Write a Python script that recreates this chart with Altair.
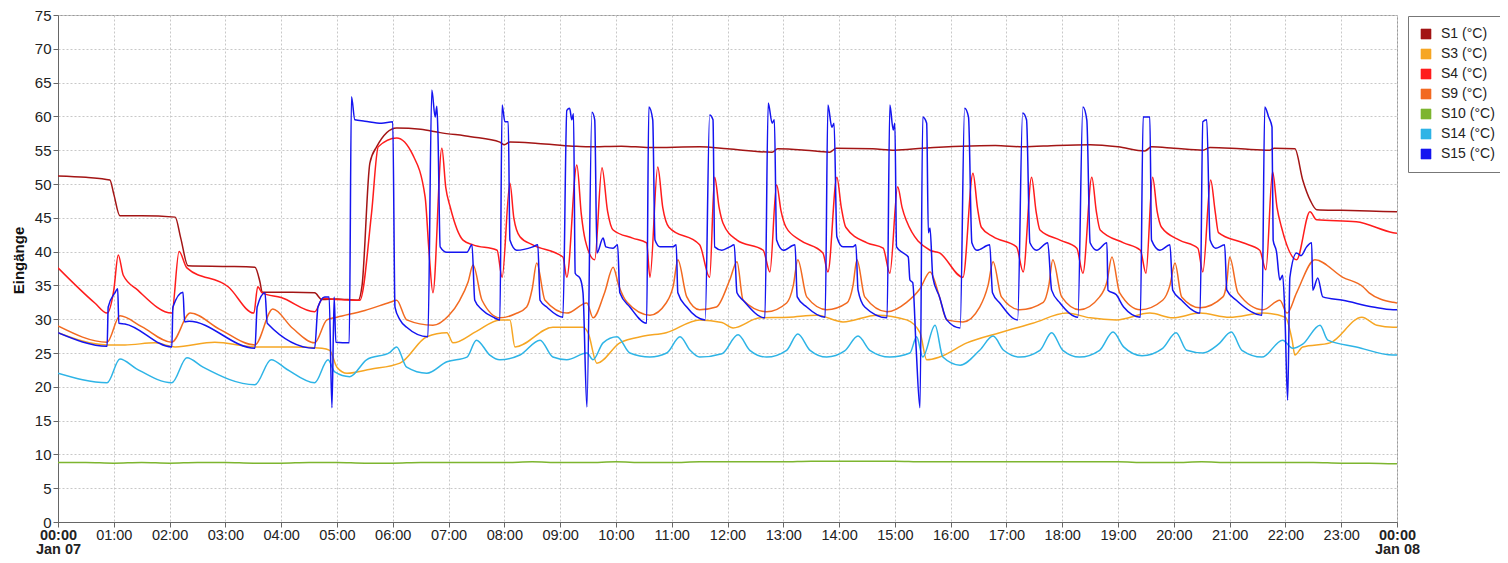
import altair as alt
import pandas as pd

# ---- data: (hour of day, °C) ----
S1 = [(0, 51.2), (0.5, 51.0), (0.93, 50.6), (1.0, 48.5), (1.11, 45.3), (1.5, 45.3), (2.1, 45.1), (2.2, 42.0),
      (2.33, 37.9), (3.0, 37.8), (3.53, 37.7), (3.62, 35.5), (3.66, 34.0), (4.2, 34.0), (4.6, 33.9), (4.73, 32.9),
      (5.0, 33.0), (5.38, 32.8), (5.45, 35.0), (5.59, 53.1), (5.71, 55.5), (6.07, 58.3), (6.5, 58.1), (6.85, 57.6),
      (7.4, 57.0), (7.92, 56.2), (8.0, 55.8), (8.1, 56.2), (8.6, 56.0), (9.23, 55.6), (9.5, 55.5), (10.1, 55.6),
      (10.6, 55.4), (11.5, 55.5), (12.0, 55.2), (12.8, 54.7), (12.9, 55.2), (13.4, 55.0), (13.83, 54.7),
      (13.95, 55.3), (14.6, 55.2), (15.0, 55.0), (15.5, 55.3), (16.2, 55.6), (16.8, 55.7), (17.3, 55.5),
      (17.9, 55.7), (18.5, 55.8), (19.0, 55.5), (19.48, 54.9), (19.6, 55.5), (20.0, 55.3), (20.52, 55.0),
      (20.65, 55.4), (21.2, 55.2), (21.72, 55.0), (21.8, 55.3), (22.17, 55.2), (22.31, 50.6), (22.45, 47.5),
      (22.56, 46.2), (23.0, 46.1), (23.5, 46.0), (24, 45.9)]

S3 = [(0, 28.0), (0.88, 26.2), (1.2, 26.2), (1.74, 26.5), (2.1, 25.9), (2.81, 26.6), (3.53, 25.9), (4.2, 25.9),
      (4.73, 25.7), (4.87, 25.4), (5.0, 22.9), (5.18, 22.0), (5.6, 22.6), (6.13, 23.5), (6.61, 27.4), (6.97, 28.0),
      (7.08, 26.5), (7.5, 28.2), (7.92, 29.9), (8.1, 29.9), (8.19, 25.9), (8.87, 28.8), (9.41, 28.8), (9.5, 28.0),
      (9.66, 23.5), (10.07, 26.5), (10.5, 27.5), (10.9, 28.0), (11.5, 29.9), (11.9, 29.5), (12.1, 28.7),
      (12.58, 30.2), (13.1, 30.3), (13.6, 30.6), (14.07, 29.6), (14.68, 30.6), (15.21, 29.9), (15.45, 28.0),
      (15.57, 24.0), (15.8, 24.4), (16.29, 26.5), (16.88, 28.0), (17.47, 29.4), (18.08, 30.9), (18.5, 30.2),
      (18.97, 29.9), (19.57, 30.9), (19.98, 30.2), (20.47, 30.9), (21.0, 30.3), (21.6, 30.9), (22.0, 30.3),
      (22.12, 26.9), (22.17, 24.7), (22.31, 25.9), (22.8, 26.5), (23.37, 30.3), (23.64, 29.1), (23.93, 28.8),
      (24, 28.8)]

S4 = [(0, 37.6), (0.66, 32.4), (0.88, 30.9), (1.0, 34.3), (1.08, 39.5), (1.17, 36.5), (1.43, 34.3), (2.04, 30.9),
      (2.17, 40.0), (2.31, 37.6), (3.05, 34.8), (3.51, 30.9), (3.58, 34.8), (3.66, 33.9), (4.0, 33.2), (4.6, 31.1),
      (4.75, 33.1), (5.0, 32.9), (5.41, 32.8), (5.62, 45.7), (5.74, 55.5), (6.07, 56.8), (6.36, 54.3),
      (6.58, 48.1), (6.65, 40.0), (6.72, 33.9), (6.88, 55.3), (6.95, 49.5), (7.03, 46.6), (7.26, 41.7),
      (7.44, 41.0), (7.87, 40.2), (7.96, 36.2), (8.1, 50.1), (8.17, 45.0), (8.28, 42.2), (8.51, 41.0),
      (9.05, 39.2), (9.12, 36.2), (9.3, 52.8), (9.38, 45.5), (9.45, 41.7), (9.62, 38.8), (9.75, 52.4),
      (9.85, 46.0), (9.95, 43.2), (10.3, 42.0), (10.55, 41.3), (10.61, 36.2), (10.75, 52.5), (10.84, 46.5),
      (10.95, 43.6), (11.5, 41.0), (11.68, 36.2), (11.77, 51.0), (11.85, 46.5), (11.92, 44.2), (12.17, 41.7),
      (12.64, 40.2), (12.76, 37.0), (12.88, 49.9), (12.96, 46.0), (13.05, 43.6), (13.3, 41.7), (13.71, 39.8),
      (13.8, 37.0), (13.96, 51.0), (14.04, 46.5), (14.12, 43.6), (14.5, 41.3), (14.79, 40.5), (14.91, 36.8),
      (15.05, 49.6), (15.13, 46.5), (15.2, 44.7), (15.63, 40.2), (15.8, 39.8), (16.22, 36.2), (16.4, 51.6),
      (16.48, 46.5), (16.55, 43.6), (16.76, 42.2), (17.18, 40.7), (17.3, 37.0), (17.45, 51.0), (17.53, 46.0),
      (17.6, 43.2), (17.96, 41.7), (18.26, 40.5), (18.37, 36.8), (18.53, 51.0), (18.61, 46.0), (18.68, 43.2),
      (19.1, 41.3), (19.4, 40.2), (19.5, 36.8), (19.62, 51.0), (19.7, 46.0), (19.78, 43.6), (20.1, 41.7),
      (20.43, 40.5), (20.52, 37.0), (20.66, 50.6), (20.74, 46.0), (20.8, 42.8), (21.24, 41.3), (21.54, 40.2),
      (21.65, 37.3), (21.77, 51.8), (21.85, 46.5), (21.93, 43.6), (22.2, 38.8), (22.44, 45.9), (22.56, 44.7),
      (23.27, 44.4), (23.93, 42.8), (24, 42.7)]

S9 = [(0, 29.0), (0.88, 26.6), (1.11, 30.5), (1.5, 28.9), (2.04, 26.6), (2.37, 30.9), (2.9, 28.5), (3.53, 26.2),
      (3.85, 31.5), (4.2, 28.7), (4.6, 26.5), (4.82, 29.9), (5.0, 30.3), (5.5, 31.3), (5.95, 32.5), (6.07, 32.8),
      (6.25, 29.9), (6.72, 29.1), (7.0, 30.5), (7.2, 32.8), (7.35, 35.5), (7.44, 38.0), (7.6, 32.8), (7.92, 30.2),
      (8.2, 30.8), (8.4, 31.8), (8.5, 34.5), (8.58, 38.3), (8.73, 32.8), (9.12, 30.9), (9.48, 32.4), (9.59, 30.2),
      (9.8, 34.0), (9.95, 37.7), (10.05, 35.0), (10.2, 32.5), (10.61, 30.6), (10.9, 32.4), (11.03, 35.0),
      (11.11, 38.8), (11.27, 33.3), (11.5, 31.4), (11.8, 31.8), (12.04, 35.8), (12.17, 38.5), (12.28, 32.8),
      (12.7, 31.1), (13.06, 32.4), (13.18, 35.0), (13.26, 38.8), (13.42, 33.3), (13.78, 31.4), (14.14, 32.4),
      (14.25, 35.0), (14.32, 38.8), (14.46, 33.3), (14.86, 31.1), (15.21, 32.5), (15.45, 34.5), (15.63, 37.0),
      (15.8, 33.3), (15.93, 29.9), (16.22, 29.6), (16.52, 31.8), (16.67, 35.0), (16.76, 38.5), (16.91, 33.3),
      (17.24, 31.4), (17.66, 32.5), (17.76, 35.0), (17.83, 38.8), (17.99, 33.3), (18.31, 31.4), (18.67, 33.3),
      (18.8, 35.5), (18.89, 39.2), (19.03, 33.9), (19.4, 31.4), (19.8, 32.8), (19.93, 35.0), (20.02, 38.3),
      (20.14, 33.3), (20.47, 31.7), (20.88, 33.3), (20.95, 35.5), (21.0, 39.2), (21.15, 33.9), (21.6, 31.4),
      (21.9, 32.8), (22.03, 30.9), (22.2, 33.9), (22.53, 38.8), (23.03, 36.2), (23.39, 34.8), (23.5, 33.9),
      (23.93, 32.5), (24, 32.4)]

S10 = [(0, 8.8), (0.5, 8.8), (1, 8.7), (1.5, 8.8), (2, 8.7), (2.5, 8.8), (3, 8.8), (3.5, 8.7), (4, 8.7), (4.5, 8.8),
       (5, 8.8), (5.5, 8.7), (6, 8.7), (6.5, 8.8), (7, 8.8), (7.5, 8.8), (8, 8.8), (8.5, 8.9), (9, 8.8), (9.5, 8.8),
       (10, 8.9), (10.5, 8.8), (11, 8.8), (11.5, 8.9), (12, 8.9), (12.5, 8.9), (13, 8.9), (13.5, 9.0), (14, 9.0),
       (14.5, 9.0), (15, 9.0), (15.5, 8.9), (16, 8.9), (16.5, 8.9), (17, 8.9), (17.5, 8.9), (18, 8.9), (18.5, 8.9),
       (19, 8.9), (19.5, 8.8), (20, 8.8), (20.5, 8.9), (21, 8.8), (21.5, 8.8), (22, 8.8), (22.5, 8.8), (23, 8.7),
       (23.5, 8.7), (24, 8.6)]

S14 = [(0, 22.0), (0.88, 20.6), (1.11, 24.1), (1.4, 22.7), (2.04, 20.6), (2.31, 24.3), (2.6, 22.9), (3.53, 20.3),
       (3.82, 24.0), (4.1, 22.6), (4.6, 20.6), (4.84, 24.0), (4.96, 22.2), (5.23, 21.5), (5.53, 24.0), (5.95, 25.1),
       (6.07, 25.9), (6.25, 22.9), (6.61, 22.0), (6.97, 23.7), (7.33, 24.4), (7.5, 26.9), (7.74, 24.7),
       (7.92, 24.0), (8.28, 24.7), (8.64, 26.9), (8.87, 24.4), (9.12, 24.0), (9.48, 25.0), (9.59, 24.0),
       (9.77, 26.5), (10.02, 27.4), (10.25, 25.0), (10.61, 24.4), (10.91, 25.0), (11.15, 27.4), (11.33, 25.4),
       (11.5, 24.4), (11.9, 24.9), (12.19, 27.7), (12.4, 25.4), (12.7, 24.4), (13.06, 25.4), (13.26, 27.8),
       (13.48, 25.4), (13.78, 24.4), (14.1, 25.3), (14.34, 27.5), (14.55, 25.4), (14.91, 24.4), (15.27, 25.0),
       (15.39, 27.4), (15.5, 24.4), (15.72, 29.1), (15.86, 24.4), (16.17, 23.2), (16.52, 25.4), (16.76, 27.5),
       (16.95, 25.4), (17.24, 24.4), (17.6, 25.4), (17.81, 28.0), (18.01, 25.4), (18.31, 24.4), (18.67, 25.4),
       (18.91, 28.1), (19.1, 25.9), (19.43, 24.6), (19.8, 25.7), (20.04, 28.0), (20.23, 25.4), (20.52, 25.0),
       (20.8, 26.3), (21.03, 28.1), (21.22, 25.4), (21.58, 24.4), (21.95, 26.9), (22.13, 25.7), (22.31, 26.3),
       (22.62, 29.1), (22.76, 26.9), (23.27, 25.9), (23.93, 24.7), (24, 24.7)]

S15 = [(0, 28.0), (0.88, 26.0), (0.9, 31.8), (1.02, 33.9), (1.07, 34.5), (1.09, 29.4), (1.2, 29.3), (2.04, 25.9),
       (2.06, 31.8), (2.24, 34.0), (2.27, 29.6), (2.35, 29.7), (3.53, 25.7), (3.57, 31.8), (3.71, 33.9),
       (3.75, 29.4), (4.6, 25.7), (4.66, 31.8), (4.78, 33.3), (4.86, 33.3), (4.91, 16.9), (4.95, 33.3),
       (4.98, 26.6), (5.22, 26.5), (5.26, 62.9), (5.32, 59.5), (5.5, 59.3), (5.8, 59.0), (6.0, 59.2), (6.04, 31.8),
       (6.13, 29.9), (6.25, 28.8), (6.63, 27.4), (6.7, 63.9), (6.76, 59.9), (6.79, 61.5), (6.81, 57.5),
       (6.85, 40.7), (6.97, 39.9), (7.33, 39.9), (7.42, 41.0), (7.47, 32.8), (7.6, 31.4), (7.8, 30.3),
       (7.92, 29.9), (7.96, 61.7), (8.01, 59.2), (8.07, 59.2), (8.1, 41.7), (8.22, 40.2), (8.51, 40.7),
       (8.6, 41.0), (8.64, 32.8), (8.76, 31.8), (9.05, 30.3), (9.12, 60.9), (9.17, 61.2), (9.21, 59.5),
       (9.24, 60.4), (9.27, 36.8), (9.36, 36.0), (9.41, 33.9), (9.48, 17.0), (9.57, 60.6), (9.62, 59.5),
       (9.66, 39.8), (9.77, 42.0), (9.82, 40.7), (9.95, 40.5), (10.03, 41.0), (10.07, 33.9), (10.25, 31.8),
       (10.55, 29.4), (10.59, 61.4), (10.66, 59.5), (10.7, 41.7), (10.79, 40.7), (11.02, 40.7), (11.08, 41.0),
       (11.11, 33.9), (11.27, 31.8), (11.6, 29.9), (11.68, 60.2), (11.74, 59.5), (11.77, 40.7), (11.9, 40.2),
       (12.04, 40.7), (12.12, 41.0), (12.17, 33.9), (12.28, 32.8), (12.67, 30.2), (12.73, 62.0), (12.8, 59.0),
       (12.84, 59.5), (12.88, 41.7), (13.0, 40.2), (13.21, 41.0), (13.25, 33.3), (13.42, 31.8), (13.75, 30.3),
       (13.8, 61.7), (13.87, 58.4), (13.91, 59.0), (13.96, 42.2), (14.07, 40.7), (14.25, 40.7), (14.3, 41.0),
       (14.34, 34.3), (14.46, 31.8), (14.86, 30.2), (14.91, 61.7), (14.97, 58.0), (15.0, 59.0), (15.03, 40.7),
       (15.15, 39.8), (15.24, 39.2), (15.27, 35.8), (15.32, 35.4), (15.38, 25.9), (15.45, 16.9), (15.5, 59.9),
       (15.57, 59.0), (15.6, 42.8), (15.63, 43.5), (15.68, 36.2), (15.8, 33.3), (15.93, 29.9), (16.17, 28.7),
       (16.25, 61.2), (16.32, 59.9), (16.38, 41.3), (16.47, 40.2), (16.7, 41.0), (16.75, 33.9), (16.88, 32.4),
       (17.2, 29.9), (17.29, 60.5), (17.36, 59.5), (17.42, 41.3), (17.54, 40.2), (17.74, 41.3), (17.81, 34.3),
       (17.96, 32.4), (18.28, 30.3), (18.37, 61.4), (18.44, 59.5), (18.5, 41.3), (18.62, 40.2), (18.8, 41.3),
       (18.82, 34.3), (18.97, 33.6), (19.1, 31.8), (19.4, 30.3), (19.45, 59.9), (19.57, 59.9), (19.6, 41.7),
       (19.75, 40.2), (19.93, 41.0), (19.98, 34.3), (20.14, 32.8), (20.47, 30.9), (20.52, 59.2), (20.59, 59.5),
       (20.65, 41.7), (20.75, 40.5), (20.91, 41.0), (20.95, 34.3), (21.12, 32.8), (21.58, 30.6), (21.63, 61.4),
       (21.7, 59.9), (21.76, 58.4), (21.78, 41.7), (21.84, 40.0), (21.9, 35.8), (21.95, 36.5), (21.99, 30.9),
       (22.04, 18.0), (22.08, 36.2), (22.2, 39.8), (22.28, 39.4), (22.38, 40.7), (22.47, 41.3), (22.49, 34.3),
       (22.58, 36.1), (22.67, 33.3), (23.03, 32.8), (23.57, 31.8), (23.93, 31.4), (24, 31.4)]

SERIES_NAMES = ["S1 (°C)", "S3 (°C)", "S4 (°C)", "S9 (°C)", "S10 (°C)", "S14 (°C)", "S15 (°C)"]
SERIES_COLORS = ["#A31515", "#F6A623", "#FF1C1C", "#F26A21", "#7DB52F", "#2EB4E6", "#1414F0"]
SERIES_DATA = [S1, S3, S4, S9, S10, S14, S15]

X_TICKS = list(range(0, 25))
Y_TICKS = list(range(0, 80, 5))

rows = []
for name, pts in zip(SERIES_NAMES, SERIES_DATA):
    for t, v in pts:
        rows.append({"series": name, "t": t, "v": v})
df = pd.DataFrame(rows)

FONT = "Liberation Sans"

color_scale = alt.Scale(domain=SERIES_NAMES, range=SERIES_COLORS)

x_enc = alt.X(
    "t:Q",
    scale=alt.Scale(domain=[0, 24], nice=False, zero=False),
    axis=alt.Axis(
        values=X_TICKS,
        title=None,
        labelFlush=False,
        labelOverlap=False,
        labelExpr="datum.value == 0 ? ['00:00', 'Jan 07'] : datum.value == 24 ? ['00:00', 'Jan 08'] : "
                  "(datum.value < 10 ? '0' : '') + datum.value + ':00'",
        labelFontWeight={"condition": {"test": "datum.value == 0 || datum.value == 24", "value": "bold"},
                         "value": "normal"},
        labelFontSize=14.5,
        labelLineHeight=14,
        labelPadding=1,
    ),
)
y_enc = alt.Y(
    "v:Q",
    scale=alt.Scale(domain=[0, 75], nice=False),
    axis=alt.Axis(
        values=Y_TICKS,
        title="Eingänge",
        titleFontWeight="bold",
        titleFontSize=15,
        titleX=-40,
        titleY=245,
        titleAngle=270,
        titleAlign="center",
        titleBaseline="middle",
        labelPadding=2,
    ),
)

base = alt.Chart(df)

legend_layer = base.transform_filter("false").mark_square(size=100, opacity=1).encode(
    x=x_enc,
    y=y_enc,
    color=alt.Color(
        "series:N",
        scale=color_scale,
        sort=SERIES_NAMES,
        legend=alt.Legend(
            title=None,
            orient="none",
            legendX=1350,
            legendY=1,
            symbolType="square",
            symbolSize=100,
            symbolStrokeColor="#444",
            symbolStrokeWidth=0.6,
            labelFont=FONT,
            labelFontSize=14,
            labelColor="#222",
            labelOffset=8,
            rowPadding=6,
            padding=11,
            strokeColor="#777",
            fillColor="white",
        ),
    ),
)

lines = base.mark_line(strokeWidth=1.5, clip=True, interpolate="monotone").encode(
    x=x_enc,
    y=y_enc,
    color=alt.Color("series:N", scale=color_scale, sort=SERIES_NAMES, legend=None),
)

chart = (
    alt.layer(legend_layer, lines)
    .properties(
        width=1339,
        height=507,
        autosize=alt.AutoSizeParams(type="none"),
        padding={"left": 50, "top": 7, "right": 103, "bottom": 33},
    )
    .configure_view(stroke="#999", strokeWidth=1)
    .configure_axis(
        labelFont=FONT,
        labelFontSize=15,
        labelColor="#222",
        titleFont=FONT,
        titleColor="#111",
        domainColor="#666",
        tickColor="#666",
        tickSize=5,
        grid=True,
        gridColor="#c8c8c8",
        gridDash=[2, 2],
        gridWidth=1,
    )
)

chart.save("out.html", embed_options={"renderer": "svg", "actions": False})
